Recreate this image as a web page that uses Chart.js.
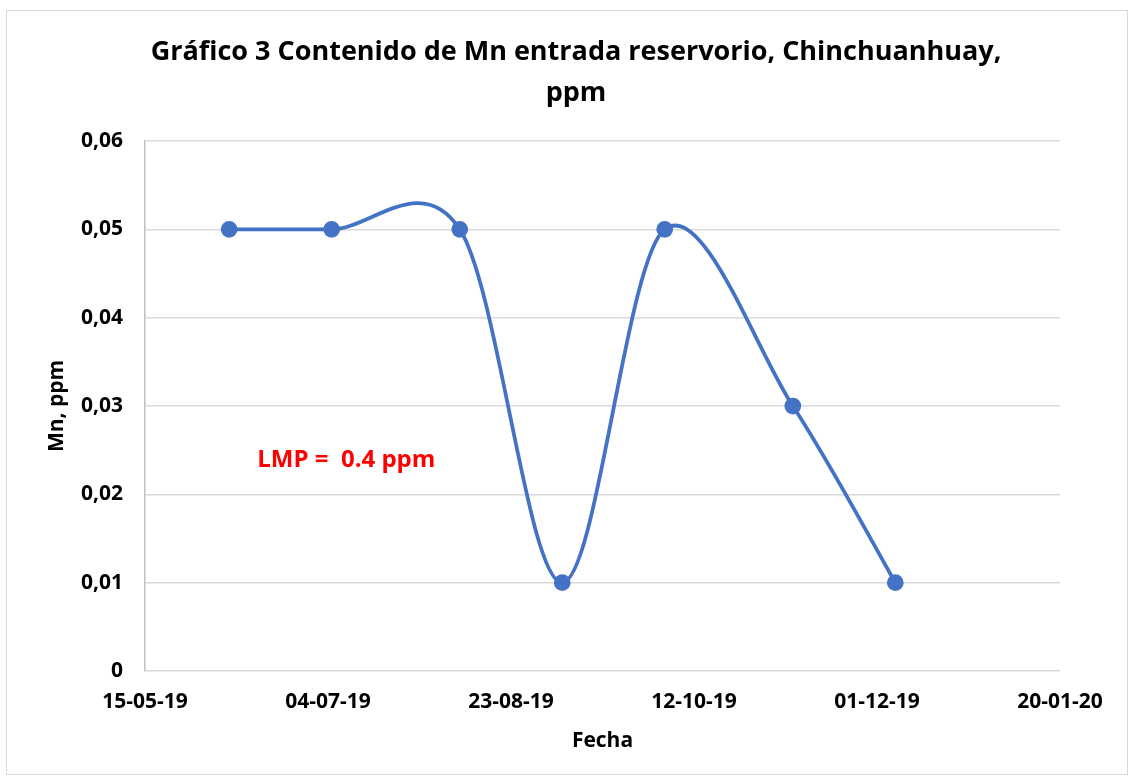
<!DOCTYPE html>
<html>
<head>
<meta charset="utf-8">
<script src="https://cdn.jsdelivr.net/npm/chart.js@4/dist/chart.umd.min.js"></script>
<style>
  html, body { margin: 0; padding: 0; background: #fff; }
  #wrap { position: relative; width: 1133px; height: 782px; }
  #frame { position: absolute; left: 6px; top: 10px; width: 1122px; height: 765px; border: 1px solid #d9d9d9; box-sizing: border-box; }
</style>
</head>
<body>
<div id="wrap">
  <div id="frame"></div>
  <canvas id="chart" width="1133" height="782"></canvas>
</div>
<script>
// sampling dates and Mn values (ppm)
const fechas = ['2019-06-07', '2019-07-05', '2019-08-09', '2019-09-06', '2019-10-04', '2019-11-08', '2019-12-06'];
const mnValores = [0.05, 0.05, 0.05, 0.01, 0.05, 0.03, 0.01];
const yTicks = [0, 0.01, 0.02, 0.03, 0.04, 0.05, 0.06];
const xTickFechas = ['15-05-19', '04-07-19', '23-08-19', '12-10-19', '01-12-19', '20-01-20'];
const tituloLineas = ['Gráfico 3 Contenido de Mn entrada reservorio, Chinchuanhuay,', 'ppm'];
const notaLMP = 'LMP =  0.4 ppm';

const BASE = Date.UTC(2019, 4, 15);
const DIA = 86400000;
const diasDesdeBase = (s) => Math.round((Date.parse(s + 'T00:00:00Z') - BASE) / DIA);

const puntos = fechas.map((f, i) => ({ x: diasDesdeBase(f), y: mnValores[i] }));

const fmtFecha = (d) => {
  const dt = new Date(BASE + d * DIA);
  const p = (n) => String(n).padStart(2, '0');
  return p(dt.getUTCDate()) + '-' + p(dt.getUTCMonth() + 1) + '-' + String(dt.getUTCFullYear()).slice(2);
};

const FONT = '"Open Sans", sans-serif';

// Excel-like smoothing: control points at P +/- (next - prev) / 6
const suavizadoPlugin = {
  id: 'suavizado',
  beforeDatasetsDraw(chart) {
    chart.getSortedVisibleDatasetMetas().forEach((meta) => {
      const line = meta.dataset;
      line.updateControlPoints(chart.chartArea);
      const pts = meta.data;
      pts.forEach((p, i) => {
        const prev = pts[i - 1] || p;
        const next = pts[i + 1] || p;
        const dx = (next.x - prev.x) / 6;
        const dy = (next.y - prev.y) / 6;
        p.cp1x = p.x - dx; p.cp1y = p.y - dy;
        p.cp2x = p.x + dx; p.cp2y = p.y + dy;
      });
    });
  }
};

// title drawn by hand so it can sit off-centre like the original
const tituloPlugin = {
  id: 'titulo',
  afterDraw(chart) {
    const { ctx } = chart;
    ctx.save();
    ctx.font = 'bold 27px ' + FONT;
    ctx.fillStyle = '#000';
    ctx.textAlign = 'center';
    ctx.textBaseline = 'middle';
    ctx.fillText(tituloLineas[0], 576, 52);
    ctx.fillText(tituloLineas[1], 576, 93);
    ctx.restore();
  }
};

const notaPlugin = {
  id: 'nota',
  afterDatasetsDraw(chart) {
    const { ctx, scales } = chart;
    const x = scales.x.getPixelForValue(55);
    const y = scales.y.getPixelForValue(0.0239);
    ctx.save();
    ctx.font = 'bold 24px ' + FONT;
    ctx.fillStyle = '#ff0000';
    ctx.textAlign = 'center';
    ctx.textBaseline = 'middle';
    ctx.fillText(notaLMP, x, y);
    ctx.restore();
  }
};

new Chart(document.getElementById('chart'), {
  type: 'scatter',
  data: {
    datasets: [{
      data: puntos,
      showLine: true,
      borderColor: '#4472C4',
      backgroundColor: '#4472C4',
      borderWidth: 3.75,
      pointRadius: 6.5,
      pointHoverRadius: 6.5,
      tension: 0.4,
      capBezierPoints: false
    }]
  },
  options: {
    responsive: false,
    animation: false,
    layout: { padding: { left: 10, right: 73, top: 141, bottom: 20 } },
    plugins: {
      legend: { display: false },
      tooltip: { enabled: false },
      title: { display: false }
    },
    scales: {
      x: {
        type: 'linear',
        min: 0,
        max: 250,
        afterFit: (s) => { s.height = 91; },
        grid: { display: false, drawTicks: false },
        border: { display: false },
        ticks: {
          stepSize: 50,
          padding: 18,
          color: '#000',
          font: { family: FONT, size: 21, weight: 'bold' },
          callback: (v, i) => xTickFechas[i] ?? fmtFecha(v)
        },
        title: {
          display: true,
          text: 'Fecha',
          color: '#000',
          font: { family: FONT, size: 21, weight: 'bold' },
          padding: { top: 0, bottom: 8 }
        }
      },
      y: {
        min: 0,
        max: 0.06,
        afterFit: (s) => { s.width = 135; },
        afterBuildTicks: (s) => { s.ticks = yTicks.map(v => ({ value: v })); },
        grid: { color: '#d9d9d9', lineWidth: 1.5, drawTicks: false },
        border: { display: true, color: '#bfbfbf', width: 1.5 },
        ticks: {
          padding: 22,
          color: '#000',
          font: { family: FONT, size: 21, weight: 'bold' },
          callback: (v) => v === 0 ? '0' : v.toFixed(2).replace('.', ',')
        },
        title: {
          display: true,
          text: 'Mn, ppm',
          color: '#000',
          font: { family: FONT, size: 21, weight: 'bold' },
          padding: { top: 34, bottom: 0 }
        }
      }
    }
  },
  plugins: [suavizadoPlugin, notaPlugin, tituloPlugin]
});
</script>
</body>
</html>
